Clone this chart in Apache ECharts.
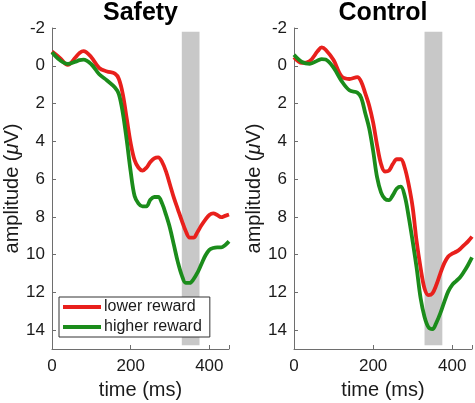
<!DOCTYPE html>
<html><head><meta charset="utf-8">
<script src="https://cdn.jsdelivr.net/npm/echarts@6/dist/echarts.min.js"></script>
<style>html,body{margin:0;padding:0;background:#fff}#c{width:475px;height:403px}</style>
</head><body><div id="c"></div>
<script>
// time points (ms)
const times = [0,20,40,60,70,80,100,120,140,160,170,180,190,200,210,220,230,240,250,260,270,280,290,300,310,320,330,340,350,360,370,380,390,400,410,420,430,440,450];
// Safety panel
const safetyLower  = [-0.75,-0.42,-0.05,-0.45,-0.68,-0.78,-0.45,0.12,0.3,0.42,0.7,1.5,2.8,4.1,5.0,5.4,5.55,5.4,5.1,4.9,4.85,5.1,5.6,6.3,7.0,7.6,8.2,8.75,9.1,9.1,8.8,8.45,8.15,7.9,7.82,7.9,8.02,7.95,7.88];
const safetyHigher = [-0.72,-0.3,-0.1,-0.22,-0.3,-0.33,-0.08,0.45,0.78,1.15,1.5,2.5,3.95,5.6,6.9,7.3,7.45,7.45,7.1,6.95,6.95,7.3,7.9,8.6,9.5,10.4,11.1,11.5,11.5,11.3,10.95,10.5,10.05,9.75,9.65,9.62,9.62,9.5,9.3];
// Control panel
const controlLower  = [-0.45,-0.15,-0.25,-0.78,-0.97,-0.85,-0.3,0.55,0.7,0.6,0.85,1.45,2.1,3.0,4.2,5.2,5.6,5.55,5.2,4.95,4.95,5.4,6.3,7.5,9.3,10.7,11.8,12.15,12.05,11.6,11.0,10.45,10.1,9.95,9.85,9.7,9.5,9.3,9.05];
const controlHigher = [-0.58,-0.2,-0.1,-0.28,-0.35,-0.33,0.1,0.8,1.3,1.42,1.7,2.5,3.3,4.5,5.9,6.7,7.05,7.12,6.85,6.5,6.4,6.9,8.0,9.3,10.7,12.3,13.3,13.85,13.95,13.6,13.1,12.5,11.95,11.6,11.4,11.2,10.9,10.55,10.15];
// analysis window (ms) and its vertical extent
const windowX = [330, 375];
const windowY = [-1.8, 14.8];
const seriesNames = ['lower reward', 'higher reward'];
const panelTitles = ['Safety', 'Control'];
const yTicks = [-2, 0, 2, 4, 6, 8, 10, 12, 14];
const xTicks = [0, 200, 400];

const RED = '#e8201c', GREEN = '#1b8c1b';
const FONT = 'Liberation Sans, Arial, Helvetica, sans-serif';
const zip = (t, v) => t.map((x, i) => [x, v[i]]);

const grids = [
  {left: 52, top: 28, width: 177, height: 321, containLabel:false, outerBoundsMode:'none'},
  {left: 294, top: 28, width: 178, height: 321, containLabel:false, outerBoundsMode:'none'}
];
function xAxis(i){
  return {type:'value', gridIndex:i, min:0, max:450, interval:200, position:'bottom',
    axisLine:{show:true, onZero:false, lineStyle:{color:'#6e6e6e', width:1}},
    axisTick:{show:true, inside:true, length:4, lineStyle:{color:'#6e6e6e'}},
    splitLine:{show:false},
    axisLabel:{color:'#1a1a1a', fontSize:17, fontFamily:FONT, margin:9,
      formatter: v => xTicks.includes(v) ? String(v) : ''},
    name:'time (ms)', nameLocation:'middle', nameGap:31, nameMoveOverlap:false,
    nameTextStyle:{color:'#1a1a1a', fontSize:20, fontFamily:FONT}};
}
function yAxis(i){
  return {type:'value', gridIndex:i, min:-2, max:15, interval:2, inverse:true,
    axisLine:{show:true, onZero:false, lineStyle:{color:'#6e6e6e', width:1}},
    axisTick:{show:true, inside:true, length:4, lineStyle:{color:'#6e6e6e'}},
    splitLine:{show:false},
    axisLabel:{color:'#1a1a1a', fontSize:17, fontFamily:FONT, margin:7,
      formatter: v => yTicks.includes(v) ? String(v) : ''},
    name:'amplitude ({i|μ}V)', nameLocation:'middle', nameGap:30, nameRotate:90, nameMoveOverlap:false,
    nameTextStyle:{color:'#1a1a1a', fontSize:20, fontFamily:FONT,
      rich:{i:{fontStyle:'italic', fontSize:20, fontFamily:FONT, color:'#1a1a1a'}}}};
}
function curve(name, data, color, i){
  return {type:'line', name, xAxisIndex:i, yAxisIndex:i, data, smooth:0.35,
    showSymbol:false, symbol:'none', z:3,
    lineStyle:{color, width:3.8}, itemStyle:{color}};
}
function windowSeries(i){
  return {type:'line', name:'win'+i, xAxisIndex:i, yAxisIndex:i, data:[], z:1, silent:true,
    markArea:{silent:true, itemStyle:{color:'#c8c8c8'},
      data:[[{coord:[windowX[0], windowY[0]]},{coord:[windowX[1], windowY[1]]}]]}};
}

const chart = echarts.init(document.getElementById('c'), null, {renderer:'canvas'});
chart.setOption({
  animation:false,
  backgroundColor:'#fff',
  grid: grids,
  xAxis:[xAxis(0), xAxis(1)],
  yAxis:[yAxis(0), yAxis(1)],
  legend:{data:seriesNames, orient:'vertical', left:59, top:297,
    icon:'rect', itemWidth:38, itemHeight:4, itemGap:4,
    backgroundColor:'#fff', borderColor:'#333', borderWidth:1,
    padding:[2,8,2,4],
    textStyle:{color:'#1a1a1a', fontSize:16, fontFamily:FONT, padding:[0,0,0,-2]}},
  graphic:[
    {type:'text', x:140.5, y:13, style:{text:panelTitles[0], align:'center', verticalAlign:'middle',
      fontSize:25, fontWeight:'bold', fontFamily:FONT, fill:'#000'}},
    {type:'text', x:383, y:13, style:{text:panelTitles[1], align:'center', verticalAlign:'middle',
      fontSize:25, fontWeight:'bold', fontFamily:FONT, fill:'#000'}}
  ],
  series:[
    windowSeries(0), windowSeries(1),
    curve(seriesNames[0], zip(times, safetyLower), RED, 0),
    curve(seriesNames[1], zip(times, safetyHigher), GREEN, 0),
    curve(seriesNames[0], zip(times, controlLower), RED, 1),
    curve(seriesNames[1], zip(times, controlHigher), GREEN, 1)
  ]
});
</script></body></html>
